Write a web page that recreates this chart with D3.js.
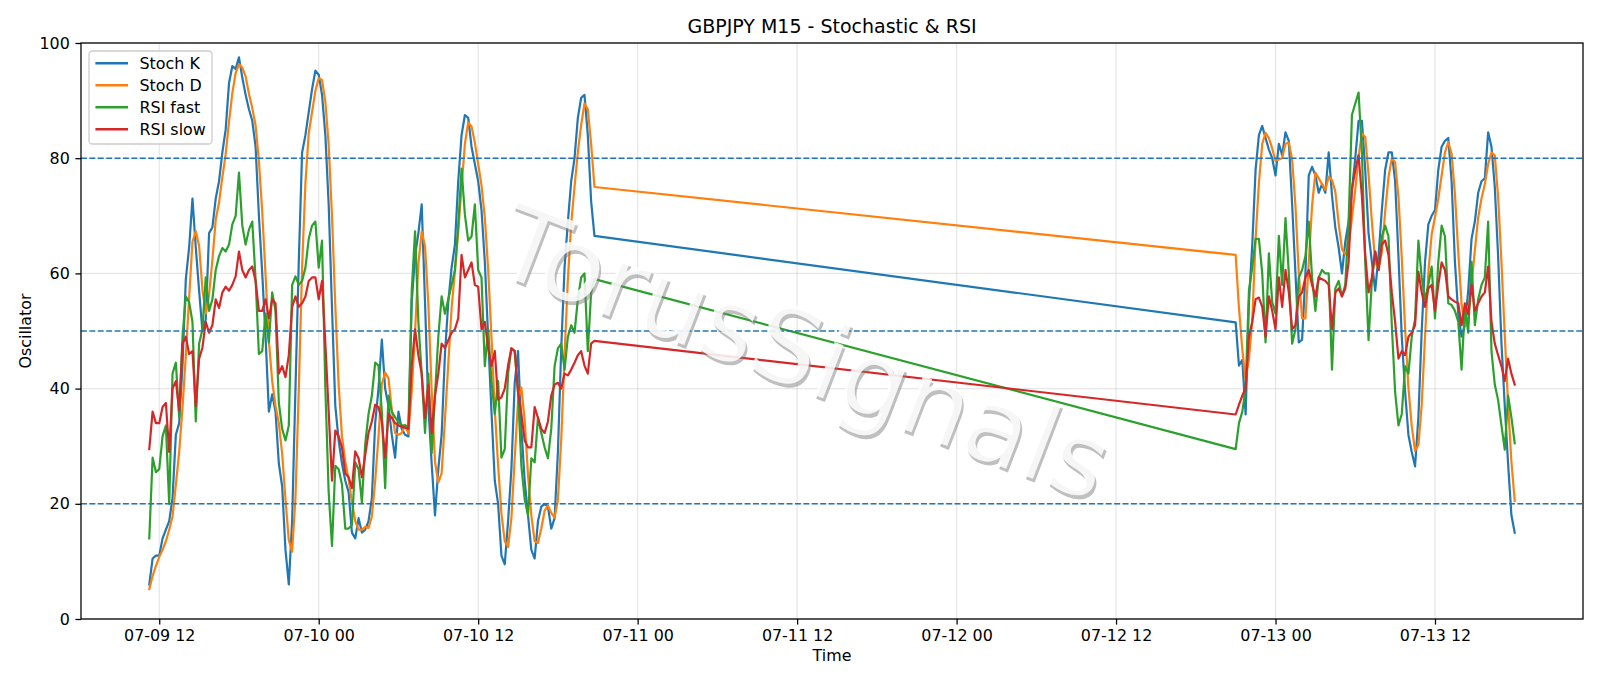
<!DOCTYPE html>
<html>
<head>
<meta charset="utf-8">
<script src="https://cdn.jsdelivr.net/npm/d3@7"></script>
<style>
  body { margin: 0; background: #fff; }
  svg text { font-family: "DejaVu Sans", sans-serif; }
</style>
</head>
<body>
<div id="vis"></div>
<script>
const FRAME_WIDTH = 1600;
const FRAME_HEIGHT = 686;
const MARGINS = {left: 81, right: 17, top: 43, bottom: 67};

// two M15 blocks, joined by a straight line across the gap
const seg1Start = "2025-07-09T11:15:00Z", seg1Stop = "2025-07-10T21:00:00Z";
const seg2Start = "2025-07-12T21:00:00Z", seg2Stop = "2025-07-13T18:15:00Z";

const xTicks = ["2025-07-09T12:00:00Z", "2025-07-10T00:00:00Z", "2025-07-10T12:00:00Z",
                "2025-07-11T00:00:00Z", "2025-07-11T12:00:00Z", "2025-07-12T00:00:00Z",
                "2025-07-12T12:00:00Z", "2025-07-13T00:00:00Z", "2025-07-13T12:00:00Z"];
const yTicks = [0, 20, 40, 60, 80, 100];
const levels = [80, 50, 20];

const stochK = [
  6, 10.5, 11, 11, 14, 15.5, 17, 21, 32, 34,
  44, 59, 64.5, 73, 64.5, 57, 50, 52, 67, 68,
  73, 76, 81, 85, 93, 96, 95.5, 97.5, 94, 91,
  88.5, 86.5, 82, 70, 60, 49, 36, 39, 36, 27,
  23, 12, 6, 17, 40, 62, 81, 84, 88, 92,
  95.2, 94.5, 91, 84, 72, 54, 37, 31, 27, 24,
  22, 15, 14, 17.5, 15, 15.5, 17, 21, 34, 40,
  48.5, 40, 37, 32, 28, 36, 33, 32, 31.7, 55,
  63, 67, 72, 55, 37, 27, 18, 26, 32, 46,
  55, 61, 65, 76, 84, 87.5, 87, 82, 79, 76,
  71, 62, 49, 36, 24, 20, 11, 9.5, 17, 26,
  41, 46.5, 33, 24, 18, 12, 10.5, 17, 19.5, 20,
  19.5, 15.7, 17.5, 29, 47, 61, 69, 76, 80, 87,
  90.5, 91, 84, 72.5, 66.5,
  // second block
  51.5, 44, 45, 35.5, 55, 65, 78, 84, 85.6, 83.5,
  81.5, 80, 77, 82.5, 80.5, 84.5, 83, 72, 60, 48,
  48.5, 60, 77, 78.5, 77, 74, 75.5, 74, 81, 73.5,
  68, 64.5, 60, 65.5, 69, 74.5, 80, 86.5, 86.5, 78,
  67, 62, 57, 63, 71, 78, 81, 81, 76, 63,
  49, 39.5, 32, 29, 26.5, 35, 50, 62, 68.5, 70,
  71, 78, 82, 83, 83.5, 76, 62, 53, 49, 51,
  57, 66, 69, 74, 76, 76.5, 84.5, 82, 75, 63,
  48, 37, 27, 18, 15
];

const stochD = [
  5.2, 7.5, 9.2, 10.8, 12, 13.5, 15.5, 17.8, 23.3, 29,
  36.7, 45.7, 55.8, 65.5, 67.3, 64.8, 57.2, 53, 56.3, 62.3,
  69.3, 72.3, 76.7, 80.7, 86.3, 91.3, 94.8, 96.3, 95.7, 94.2,
  91.2, 88.7, 85.7, 79.5, 70.7, 59.7, 48.3, 41.3, 37, 34,
  28.7, 20.7, 13.7, 11.7, 21, 39.7, 61, 75.7, 84.3, 88,
  91.7, 93.9, 93.6, 89.8, 82.3, 70, 54.3, 40.7, 31.7, 27.3,
  24.3, 20.3, 17, 15.5, 15.5, 16, 15.8, 17.8, 24, 31.7,
  40.8, 42.8, 41.8, 36.3, 32.3, 32, 32.3, 33.7, 32.2, 39.6,
  49.9, 61.7, 67.3, 64.7, 54.7, 39.7, 27.3, 23.7, 25.3, 34.7,
  44.3, 54, 60.3, 67.3, 75, 82.5, 86.2, 85.5, 82.7, 79,
  75.3, 69.7, 60.7, 49, 36.3, 26.7, 18.3, 13.5, 12.5, 17.5,
  28, 37.8, 40.2, 34.5, 25, 18, 13.5, 13.2, 15.7, 18.8,
  19.7, 18.4, 17.6, 20.7, 31.2, 45.7, 59, 68.7, 75, 81,
  85.8, 89.5, 88.5, 82.5, 75,
  // second block
  63.2, 54, 46.8, 41.5, 45.2, 51.8, 66, 75.7, 82.5, 84.4,
  83.5, 81.7, 79.5, 79.8, 80, 82.5, 82.7, 79.8, 71.7, 60,
  52.2, 52.2, 61.8, 71.8, 77.5, 76.5, 75.5, 74.5, 76.8, 76.2,
  74.2, 68.7, 64.2, 63.3, 64.8, 69.7, 74.5, 80.3, 84.3, 83.7,
  77.2, 69, 62, 60.7, 63.7, 70.7, 76.7, 80, 79.3, 73.3,
  62.7, 50.5, 40.2, 33.5, 29.2, 30.2, 37.2, 49, 60.2, 66.8,
  69.8, 73, 77, 81, 82.8, 80.8, 73.8, 63.7, 54.7, 51,
  52.3, 58, 64, 69.7, 73, 75.5, 79, 81, 80.5, 73.3,
  62, 49.3, 37.3, 27.3, 20.5
];

const rsiFast = [
  14, 28, 25.5, 26, 31.7, 33.6, 20, 42.6, 44.5, 35,
  49, 56, 55, 51.6, 34.3, 47.8, 50.3, 59.3, 53.5, 55.5,
  60.6, 63, 64.4, 63.8, 65, 68.5, 70, 77.5, 68.3, 65,
  67.6, 69, 59, 46, 46.5, 53, 48, 56.7, 53.5, 37.5,
  33, 31, 33.6, 58, 59.5, 58, 58.7, 61, 66, 68.3,
  69, 61, 65.7, 40, 22, 12.7, 26.6, 26, 23.4, 15.7,
  15.7, 16.3, 27.2, 26, 20.2, 30.4, 35.6, 38.8, 44.5, 44,
  36, 22.7, 38.8, 36, 35, 34.3, 33.6, 33.6, 33.4, 57,
  67.3, 51.6, 42.6, 32.3, 42.6, 28.8, 38.8, 49, 56, 53,
  55.5, 58, 60.6, 68.3, 78.2, 70.2, 65.7, 66.4, 72, 60.6,
  59.3, 43.9, 50.3, 41.3, 35.6, 41.3, 28, 29.5, 42.6, 47,
  46.5, 39.4, 26.6, 20.8, 18, 27.9, 27.2, 35, 32.3, 29.8,
  27.9, 33, 43.9, 47, 47.8, 43.3, 49, 51, 49.7, 55.5,
  59.3, 60, 46.5, 56.7, 59,
  // second block
  29.5, 34, 36, 40, 57, 61, 66, 66, 60, 48,
  63.5, 55, 53, 66.5, 58, 69.6, 60, 47.8, 50.3, 59.3,
  60.6, 63, 69, 59.3, 53.5, 59.3, 60.6, 60, 60, 43.3,
  57.4, 58.7, 56, 58, 69, 87.5, 89.5, 91.4, 81, 62,
  48.4, 58.7, 63.8, 60.6, 66.4, 68.3, 66.4, 51, 39.4, 33.6,
  35.6, 43.9, 42.6, 49, 52, 65.7, 59.3, 55.5, 58, 61.2,
  52.2, 62, 68.3, 66.4, 54.8, 54.5, 53.5, 51.6, 43.3, 54,
  49.7, 62, 51, 55.5, 58, 59.3, 69, 46.5, 40.7, 38,
  33.6, 29.4, 38.8, 35, 30.5
];

const rsiSlow = [
  29.5, 36, 34, 34, 36.8, 37.5, 29, 40, 41.3, 36.2,
  47.8, 49, 46, 46.5, 37, 45.2, 47.1, 51.6, 49.7, 51,
  55.5, 54, 56.7, 57.7, 57, 58, 59.5, 63.8, 60.6, 59.3,
  60.6, 61.2, 58.7, 53.5, 53.5, 55.5, 52.2, 55.5, 54.8, 42.6,
  43.9, 42, 45.8, 54.2, 56, 54.2, 54.8, 56, 58.7, 59.3,
  59.3, 55.5, 58.7, 47.8, 36, 24, 32.7, 31.7, 29.8, 25.3,
  24.6, 22.7, 29.1, 27.9, 24.6, 28.5, 32.3, 34.3, 37.2, 36.8,
  34.3, 28, 35.6, 34.9, 34, 33.6, 33.4, 33.2, 33, 44,
  50.3, 45.8, 42.6, 34.9, 40.7, 32.3, 38.8, 42.6, 47.8, 47.1,
  48.4, 49.7, 50.3, 52.2, 63.2, 59.3, 60.6, 61.9, 58, 57.7,
  50.3, 51.6, 47.1, 43.9, 46.5, 38.1, 38.5, 40, 44, 47,
  46.5, 39.4, 35.6, 31, 29.8, 29.8, 36.8, 34.9, 33, 32.3,
  34.3, 38.8, 40.7, 41, 40, 42.6, 42.3, 43.3, 44.5, 45.8,
  46.5, 44, 42.6, 47.8, 48.3,
  // second block
  35.5, 37.2, 38.8, 40, 49, 51.6, 55.5, 55.8, 54.2, 49,
  56, 53.5, 50.3, 59.3, 54.2, 60.6, 56.7, 50.3, 51, 56,
  56.7, 59.3, 60.6, 58, 56, 59.3, 59, 58.7, 58, 50.3,
  56.7, 57.4, 56, 57.4, 62, 74.7, 77.9, 80.5, 73.4, 63.2,
  56.7, 59.3, 63.8, 60.6, 65, 65.7, 63.2, 56.7, 51.6, 45.2,
  46.5, 45.8, 49, 49.7, 51, 60.3, 56.7, 54.2, 57.4, 58,
  53.5, 58, 61.9, 60.6, 56, 55.5, 55.1, 54.8, 51, 54.8,
  52.9, 58, 53.5, 54.8, 56, 56.7, 61.2, 51.6, 47.8, 45.8,
  43.9, 41.3, 45.2, 42.6, 40.7
];

const seriesNames = ["Stoch K", "Stoch D", "RSI fast", "RSI slow"];
const seriesColors = ["#1f77b4", "#ff7f0e", "#2ca02c", "#d62728"];
const allSeries = [stochK, stochD, rsiFast, rsiSlow];

const step = d3.utcMinute.every(15);
const times = step.range(new Date(seg1Start), new Date(seg1Stop))
               .concat(step.range(new Date(seg2Start), new Date(seg2Stop)));

const VIS_WIDTH = FRAME_WIDTH - MARGINS.left - MARGINS.right;
const VIS_HEIGHT = FRAME_HEIGHT - MARGINS.top - MARGINS.bottom;

const FRAME = d3.select("#vis")
  .append("svg")
    .attr("width", FRAME_WIDTH)
    .attr("height", FRAME_HEIGHT);

// matplotlib style 5% margins on the time axis
const t0 = times[0], t1 = times[times.length - 1];
const pad = (t1 - t0) * 0.05;
const X_SCALE = d3.scaleUtc()
  .domain([new Date(+t0 - pad), new Date(+t1 + pad)])
  .range([MARGINS.left, MARGINS.left + VIS_WIDTH]);

const Y_SCALE = d3.scaleLinear()
  .domain([0, 100])
  .range([MARGINS.top + VIS_HEIGHT, MARGINS.top]);

const tickDates = xTicks.map(s => new Date(s));

// grid
FRAME.append("g")
  .selectAll("line.vg")
  .data(tickDates)
  .enter().append("line")
    .attr("x1", d => X_SCALE(d)).attr("x2", d => X_SCALE(d))
    .attr("y1", MARGINS.top).attr("y2", MARGINS.top + VIS_HEIGHT)
    .attr("stroke", "#b0b0b0").attr("stroke-opacity", 0.3).attr("stroke-width", 1.27);

FRAME.append("g")
  .selectAll("line.hg")
  .data(yTicks)
  .enter().append("line")
    .attr("x1", MARGINS.left).attr("x2", MARGINS.left + VIS_WIDTH)
    .attr("y1", d => Y_SCALE(d)).attr("y2", d => Y_SCALE(d))
    .attr("stroke", "#b0b0b0").attr("stroke-opacity", 0.3).attr("stroke-width", 1.27);

FRAME.append("clipPath").attr("id", "clip")
  .append("rect")
    .attr("x", MARGINS.left).attr("y", MARGINS.top)
    .attr("width", VIS_WIDTH).attr("height", VIS_HEIGHT);

const line = d3.line()
  .x((d, i) => X_SCALE(times[i]))
  .y(d => Y_SCALE(d));

FRAME.append("g").attr("clip-path", "url(#clip)")
  .selectAll("path")
  .data(allSeries)
  .enter().append("path")
    .attr("d", d => line(d))
    .attr("fill", "none")
    .attr("stroke", (d, i) => seriesColors[i])
    .attr("stroke-width", 2.2)
    .attr("stroke-linejoin", "round")
    .attr("stroke-linecap", "square");

// 80 / 50 / 20 levels
FRAME.append("g")
  .selectAll("line")
  .data(levels)
  .enter().append("line")
    .attr("x1", MARGINS.left).attr("x2", MARGINS.left + VIS_WIDTH)
    .attr("y1", d => Y_SCALE(d)).attr("y2", d => Y_SCALE(d))
    .attr("stroke", "#1f77b4").attr("stroke-width", 1.5)
    .attr("stroke-dasharray", "5.9,2.5");

// watermark
const wm = FRAME.append("g")
  .attr("transform", "translate(804,352) rotate(21)");
wm.append("text")
  .attr("x", 3).attr("y", 3)
  .attr("text-anchor", "middle").attr("dy", "0.35em")
  .attr("font-size", 104)
  .attr("fill", "#808080").attr("fill-opacity", 0.5)
  .text("TorusSignals");
wm.append("text")
  .attr("text-anchor", "middle").attr("dy", "0.35em")
  .attr("font-size", 104)
  .attr("fill", "#ffffff").attr("fill-opacity", 0.85)
  .text("TorusSignals");

// axes
const xAxis = d3.axisBottom(X_SCALE)
  .tickValues(tickDates)
  .tickFormat(d3.utcFormat("%m-%d %H"))
  .tickSize(5.6).tickPadding(5.6);
const gx = FRAME.append("g")
  .attr("transform", `translate(0,${MARGINS.top + VIS_HEIGHT})`)
  .call(xAxis);
gx.select(".domain").remove();
gx.selectAll("line").attr("stroke", "#000").attr("stroke-width", 1.27);
gx.selectAll("text").attr("font-size", 15.9).attr("fill", "#000")
  .attr("font-family", "DejaVu Sans");

const yAxis = d3.axisLeft(Y_SCALE)
  .tickValues(yTicks)
  .tickSize(5.6).tickPadding(5.6);
const gy = FRAME.append("g")
  .attr("transform", `translate(${MARGINS.left},0)`)
  .call(yAxis);
gy.select(".domain").remove();
gy.selectAll("line").attr("stroke", "#000").attr("stroke-width", 1.27);
gy.selectAll("text").attr("font-size", 15.9).attr("fill", "#000")
  .attr("font-family", "DejaVu Sans");

// spines
FRAME.append("rect")
  .attr("x", MARGINS.left).attr("y", MARGINS.top)
  .attr("width", VIS_WIDTH).attr("height", VIS_HEIGHT)
  .attr("fill", "none").attr("stroke", "#000").attr("stroke-width", 1.27);

// title and labels
FRAME.append("text")
  .attr("x", MARGINS.left + VIS_WIDTH / 2).attr("y", 33)
  .attr("text-anchor", "middle").attr("font-size", 19)
  .text("GBPJPY M15 - Stochastic & RSI");

FRAME.append("text")
  .attr("x", MARGINS.left + VIS_WIDTH / 2).attr("y", 661)
  .attr("text-anchor", "middle").attr("font-size", 15.9)
  .text("Time");

FRAME.append("text")
  .attr("transform", `translate(31,${MARGINS.top + VIS_HEIGHT / 2}) rotate(-90)`)
  .attr("text-anchor", "middle").attr("font-size", 15.9)
  .text("Oscillator");

// legend
const legend = FRAME.append("g").attr("transform", "translate(89,51)");
legend.append("rect")
  .attr("width", 123).attr("height", 93)
  .attr("rx", 3.5).attr("ry", 3.5)
  .attr("fill", "#fff").attr("fill-opacity", 0.8)
  .attr("stroke", "#cccccc").attr("stroke-width", 1.27);

const items = legend.selectAll("g.item")
  .data(seriesNames)
  .enter().append("g")
    .attr("transform", (d, i) => `translate(0,${12.3 + i * 22})`);
items.append("line")
  .attr("x1", 6.4).attr("x2", 39)
  .attr("stroke", (d, i) => seriesColors[i])
  .attr("stroke-width", 2.4);
items.append("text")
  .attr("x", 50.5).attr("dy", "0.35em")
  .attr("font-size", 15.9)
  .text(d => d);
</script>
</body>
</html>
